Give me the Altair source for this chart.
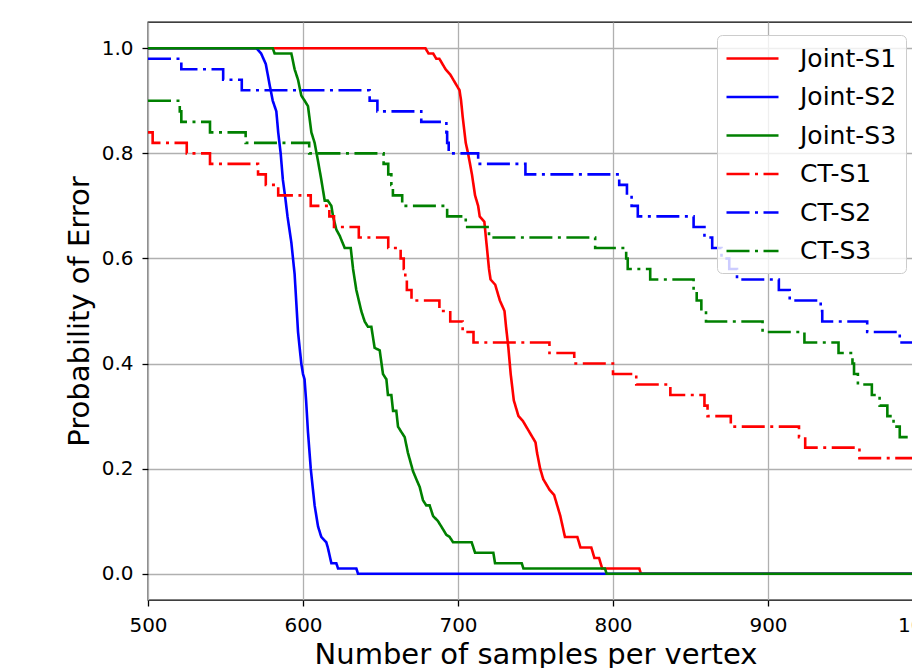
import altair as alt
import pandas as pd

series_names = ["Joint-S1", "Joint-S2", "Joint-S3", "CT-S1", "CT-S2", "CT-S3"]
series_colors = ["#ff0000", "#0000ff", "#008000", "#ff0000", "#0000ff", "#008000"]
dash_dot = [23, 5.5, 3, 5.5]
series_dashes = [[1, 0], [1, 0], [1, 0], dash_dot, dash_dot, dash_dot]

x_ticks = [500, 600, 700, 800, 900, 1000]
y_ticks = [0.0, 0.2, 0.4, 0.6, 0.8, 1.0]

joint_s1_x = [500, 679, 681, 684, 686, 688, 690, 692, 695, 697, 699, 701, 702, 703, 705, 706.5, 709, 711, 713, 714, 717, 718, 720, 721, 724, 725, 727, 730, 731, 732.5, 734, 736, 737, 739, 742, 744, 746, 748, 750, 751, 753, 755, 757, 759, 762, 763, 765, 766, 767.5, 769, 777, 779, 786, 788, 791, 793, 817, 818, 1000]
joint_s1_y = [1.0, 1.0, 0.99, 0.99, 0.98, 0.98, 0.97, 0.96, 0.95, 0.94, 0.93, 0.92, 0.90, 0.87, 0.82, 0.80, 0.76, 0.72, 0.70, 0.68, 0.67, 0.64, 0.58, 0.56, 0.55, 0.54, 0.52, 0.50, 0.47, 0.43, 0.38, 0.33, 0.32, 0.30, 0.29, 0.28, 0.27, 0.26, 0.25, 0.23, 0.20, 0.18, 0.17, 0.16, 0.15, 0.14, 0.12, 0.11, 0.09, 0.07, 0.07, 0.05, 0.05, 0.03, 0.03, 0.01, 0.01, 0.0, 0.0]

joint_s2_x = [500, 570, 573, 576, 578.5, 580.5, 582.8, 584, 585.6, 587, 588.6, 590, 592.5, 594.6, 596.8, 598.9, 600, 601, 602, 603.2, 605, 607.5, 609.7, 611.8, 615, 616, 618.3, 621.5, 622.6, 634.4, 635.5, 1000]
joint_s2_y = [1.0, 1.0, 0.99, 0.97, 0.93, 0.90, 0.88, 0.84, 0.80, 0.75, 0.715, 0.68, 0.63, 0.57, 0.46, 0.40, 0.38, 0.37, 0.33, 0.27, 0.20, 0.13, 0.09, 0.07, 0.06, 0.05, 0.02, 0.02, 0.01, 0.01, 0.0, 0.0]

joint_s3_x = [500, 580.5, 581.7, 592.5, 594.6, 596.8, 598.9, 601.1, 603.2, 605.4, 607.5, 609.7, 611.8, 614, 616, 618.3, 619.4, 621.5, 623.7, 626.9, 630.8, 632.3, 634.4, 637.6, 639.8, 641.9, 644.1, 646.2, 649.5, 651.6, 653.8, 654.8, 657, 658.1, 660.2, 661.3, 663.4, 665.6, 667.7, 671, 673.1, 675.3, 677.4, 679.5, 681.7, 683.9, 687.1, 689.2, 692.5, 694.6, 696.8, 708.8, 711, 722.8, 723.9, 741.1, 742.2, 794.8, 795.9, 1000]
joint_s3_y = [1.0, 1.0, 0.99, 0.99, 0.96, 0.94, 0.91, 0.90, 0.89, 0.84, 0.82, 0.785, 0.75, 0.71, 0.71, 0.70, 0.68, 0.655, 0.643, 0.62, 0.62, 0.58, 0.54, 0.50, 0.48, 0.47, 0.47, 0.43, 0.425, 0.38, 0.37, 0.34, 0.34, 0.31, 0.31, 0.28, 0.27, 0.26, 0.23, 0.195, 0.18, 0.165, 0.14, 0.13, 0.13, 0.11, 0.10, 0.09, 0.074, 0.07, 0.06, 0.06, 0.04, 0.04, 0.02, 0.02, 0.01, 0.01, 0.0, 0.0]

ct_s1_x = [500, 503, 525, 540, 571, 576, 584, 605, 617, 620, 636, 655, 663, 665, 666, 667, 670, 688, 695, 703, 710, 759, 775, 800, 815, 837, 859, 861, 876, 920, 924, 959, 1000]
ct_s1_y = [0.84, 0.82, 0.80, 0.78, 0.76, 0.74, 0.72, 0.70, 0.68, 0.66, 0.64, 0.62, 0.60, 0.58, 0.56, 0.54, 0.52, 0.50, 0.48, 0.46, 0.44, 0.42, 0.40, 0.38, 0.36, 0.34, 0.32, 0.30, 0.28, 0.26, 0.24, 0.22, 0.22]

ct_s2_x = [500, 521.5, 548.5, 560.5, 643, 648, 676.3, 692.5, 693, 694, 713, 743.5, 804, 809, 812, 816, 852, 859, 864, 870, 875, 880, 907, 914, 934, 935, 964, 985, 1000]
ct_s2_y = [0.98, 0.96, 0.94, 0.92, 0.90, 0.88, 0.86, 0.84, 0.82, 0.80, 0.78, 0.76, 0.74, 0.72, 0.70, 0.68, 0.66, 0.64, 0.62, 0.60, 0.58, 0.56, 0.54, 0.52, 0.50, 0.48, 0.46, 0.44, 0.44]

ct_s3_x = [500, 520.5, 521.5, 540, 563, 604, 652, 655, 657, 658, 664, 693, 705, 720, 788.5, 808.5, 809.5, 824, 852, 854, 857, 860, 896.5, 923.5, 945.5, 954.5, 955.5, 958, 967, 972, 977, 981, 985, 1000]
ct_s3_y = [0.90, 0.88, 0.86, 0.84, 0.82, 0.80, 0.78, 0.76, 0.74, 0.72, 0.70, 0.68, 0.66, 0.64, 0.62, 0.60, 0.58, 0.56, 0.54, 0.52, 0.50, 0.48, 0.46, 0.44, 0.42, 0.40, 0.38, 0.36, 0.34, 0.32, 0.30, 0.28, 0.26, 0.26]


def frame(name, xs, ys):
    return pd.DataFrame({"series": name, "x": xs, "y": ys})


joint_df = pd.concat([
    frame("Joint-S1", joint_s1_x, joint_s1_y),
    frame("Joint-S2", joint_s2_x, joint_s2_y),
    frame("Joint-S3", joint_s3_x, joint_s3_y),
], ignore_index=True)

ct_df = pd.concat([
    frame("CT-S1", ct_s1_x, ct_s1_y),
    frame("CT-S2", ct_s2_x, ct_s2_y),
    frame("CT-S3", ct_s3_x, ct_s3_y),
], ignore_index=True)

x_enc = alt.X(
    "x:Q",
    scale=alt.Scale(domain=[500, 1000], nice=False, zero=False),
    axis=alt.Axis(values=x_ticks, format="d", title="Number of samples per vertex",
                  labelFlush=False, labelOverlap=False, labelPadding=9.5, titlePadding=5),
)
y_enc = alt.Y(
    "y:Q",
    scale=alt.Scale(domain=[-0.05, 1.05], nice=False, zero=False),
    axis=alt.Axis(values=y_ticks, format=".1f", title="Probability of Error",
                  labelFlush=False, labelOverlap=False, labelPadding=9, titlePadding=7),
)
color_enc = alt.Color("series:N", scale=alt.Scale(domain=series_names, range=series_colors),
                      legend=alt.Legend(title=None))
dash_enc = alt.StrokeDash("series:N", scale=alt.Scale(domain=series_names, range=series_dashes),
                          legend=alt.Legend(title=None))

joint = alt.Chart(joint_df).mark_line(strokeWidth=2.6, interpolate="linear").encode(
    x=x_enc, y=y_enc, color=color_enc, strokeDash=dash_enc)
ct = alt.Chart(ct_df).mark_line(strokeWidth=2.6, interpolate="step-after").encode(
    x=x_enc, y=y_enc, color=color_enc, strokeDash=dash_enc)

chart = (
    alt.layer(joint, ct)
    .properties(width=775, height=578,
                autosize=alt.AutoSizeParams(type="none"),
                padding={"left": 140, "top": 14, "right": -11, "bottom": 68})
    .configure_view(stroke="black", strokeWidth=1.3)
    .configure_axis(labelFont="DejaVu Sans", labelFontSize=20, labelColor="black",
                    titleFont="DejaVu Sans", titleFontSize=29, titleFontWeight="normal",
                    titleColor="black", tickColor="black", tickSize=6, tickWidth=1.3,
                    domain=False, grid=True, gridColor="#b0b0b0", gridWidth=1.3, gridOpacity=1)
    .configure_legend(orient="none", legendX=569, legendY=13,
                      symbolType="M-2,0H2", symbolSize=676, symbolStrokeWidth=2.6,
                      symbolOffset=12, labelOffset=33, labelFontSize=25,
                      labelFont="DejaVu Sans", labelColor="black", rowPadding=10.5,
                      padding=9, fillColor="rgba(255,255,255,0.8)", strokeColor="#cccccc",
                      cornerRadius=5)
)

chart.save("out.html", embed_options={"renderer": "svg", "actions": False})
